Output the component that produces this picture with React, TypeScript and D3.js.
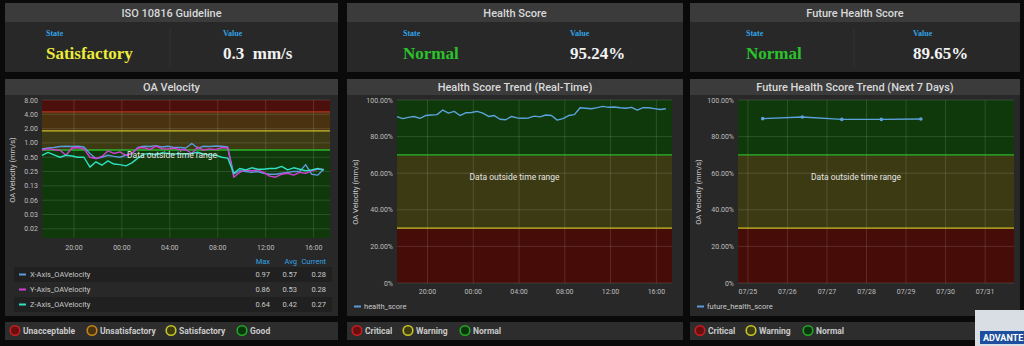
import React from 'react';
import * as d3 from 'd3';

const W = 1024;
const H = 346;

// ---------- data ----------
const oaStart = new Date(2019, 6, 24, 17, 20);
const oaEnd = new Date(2019, 6, 25, 17, 22);
const stepMin = 30;

const oaXAxis = [0.75, 0.78, 0.8, 0.84, 0.85, 0.84, 0.85, 0.82, 0.6, 0.47, 0.5, 0.55, 0.52, 0.5, 0.55, 0.6, 0.8, 0.85, 0.84, 0.88, 0.82, 0.85, 0.8, 0.8, 0.78, 0.97, 0.78, 0.85, 0.84, 0.86, 0.85, 0.82, 0.22, 0.26, 0.25, 0.24, 0.25, 0.23, 0.22, 0.22, 0.23, 0.24, 0.25, 0.25, 0.35, 0.22, 0.21, 0.28];
const oaYAxis = [0.7, 0.76, 0.72, 0.7, 0.55, 0.78, 0.8, 0.75, 0.5, 0.47, 0.52, 0.68, 0.6, 0.65, 0.55, 0.6, 0.78, 0.8, 0.72, 0.86, 0.76, 0.74, 0.78, 0.72, 0.72, 0.6, 0.82, 0.7, 0.75, 0.72, 0.8, 0.78, 0.19, 0.24, 0.27, 0.26, 0.27, 0.24, 0.2, 0.19, 0.22, 0.23, 0.21, 0.24, 0.23, 0.26, 0.28, 0.28];
const oaZAxis = [0.55, 0.63, 0.56, 0.5, 0.55, 0.53, 0.5, 0.5, 0.31, 0.4, 0.34, 0.42, 0.36, 0.35, 0.33, 0.38, 0.48, 0.58, 0.6, 0.56, 0.62, 0.6, 0.58, 0.6, 0.58, 0.6, 0.64, 0.58, 0.56, 0.55, 0.5, 0.48, 0.23, 0.29, 0.27, 0.3, 0.28, 0.28, 0.29, 0.29, 0.32, 0.27, 0.3, 0.28, 0.26, 0.27, 0.29, 0.27];

const oaYTicks = [8, 4, 2, 1, 0.5, 0.25, 0.125, 0.0625, 0.03125, 0.015625];
const oaYTickLabels = ['8.00', '4.00', '2.00', '1.00', '0.50', '0.25', '0.13', '0.06', '0.03', '0.02'];
const oaThresholds = [0.71, 1.8, 4.5];

const oaSeriesNames = ['X-Axis_OAVelocity', 'Y-Axis_OAVelocity', 'Z-Axis_OAVelocity'];
const oaSeriesColors = ['#5b9bd8', '#d23fd2', '#2fe0c2'];
const oaMax = ['0.97', '0.86', '0.64'];
const oaAvg = ['0.57', '0.53', '0.42'];
const oaCur = ['0.28', '0.28', '0.27'];

const healthScore = [90.9, 89.8, 90.5, 91, 90, 91.5, 91.8, 92, 94.5, 92.8, 93.8, 91.5, 93, 93.2, 93.8, 92.8, 91, 91.5, 89.5, 89.2, 91, 90.2, 90, 90.2, 91.2, 90.8, 91.8, 91.5, 89, 89.8, 91.5, 92, 95.8, 95.5, 95.2, 95.8, 96.5, 96, 96.2, 95.8, 95.5, 96, 94.5, 95.8, 95.8, 95.3, 94.8, 95.2];

const futureStart = new Date(2019, 6, 24, 18, 0);
const futureEnd = new Date(2019, 6, 31, 17, 30);
const futureDates = [new Date(2019, 6, 25, 9), new Date(2019, 6, 26, 9), new Date(2019, 6, 27, 9), new Date(2019, 6, 28, 9), new Date(2019, 6, 29, 9)];
const futureScore = [89.8, 90.7, 89.4, 89.4, 89.65];

const pctTicks = [0, 20, 40, 60, 80, 100];
const pctTickLabels = ['0%', '20.00%', '40.00%', '60.00%', '80.00%', '100.00%'];

const isoLegend = ['Unacceptable', 'Unsatisfactory', 'Satisfactory', 'Good'];
const healthLegend = ['Critical', 'Warning', 'Normal'];

// ---------- styles ----------
const BG = '#0a0a0a';
const PANEL = '#282828';
const TITLE = '#3b3b3b';
const TXT = '#d8d9da';
const SANS = 'Roboto, "Noto Sans", sans-serif';
const SERIF = '"Liberation Serif", "DejaVu Serif", serif';
const GRID = 'rgba(255,255,255,0.13)';
const BLUE_LBL = '#33a2e5';

const circ = {
  red: { fill: '#6a0f0f', stroke: '#c81e1e' },
  orange: { fill: '#4a3310', stroke: '#c8841a' },
  yellow: { fill: '#3e3c12', stroke: '#c8c426' },
  green: { fill: '#0c340c', stroke: '#22a822' },
};

const times = (start: Date, n: number) => d3.range(n).map((i) => new Date(start.getTime() + i * stepMin * 60000));

function Panel({ x, y, w, h, title, th }: any) {
  return (
    <g>
      <rect x={x} y={y} width={w} height={h} fill={PANEL} />
      <rect x={x} y={y} width={w} height={th} fill={TITLE} />
      <text x={x + w / 2} y={y + th / 2 + 4} textAnchor="middle" fill={TXT} fontFamily={SANS} fontSize={11} fontWeight={500}>
        {title}
      </text>
    </g>
  );
}

function StatPanel({ x, w, title, stateX, valueX, state, stateColor, value, divider }: any) {
  return (
    <g>
      <Panel x={x} y={3} w={w} h={69} title={title} th={19} />
      {divider !== undefined && <line x1={divider} x2={divider} y1={29} y2={66} stroke="#353535" strokeWidth={1} />}
      <text x={stateX} y={36} fill={BLUE_LBL} fontFamily={SERIF} fontWeight="bold" fontSize={8}>State</text>
      <text x={valueX} y={36} fill={BLUE_LBL} fontFamily={SERIF} fontWeight="bold" fontSize={8}>Value</text>
      <text x={stateX} y={59} fill={stateColor} fontFamily={SERIF} fontWeight="bold" fontSize={17}>{state}</text>
      <text x={valueX} y={59} fill="#f2f2f2" fontFamily={SERIF} fontWeight="bold" fontSize={17} style={{ whiteSpace: 'pre' }}>{value}</text>
    </g>
  );
}

function LegendStrip({ x, w, items, colors, positions }: any) {
  return (
    <g>
      <rect x={x} y={322} width={w} height={18} fill="#2d2d2d" />
      {items.map((it: string, i: number) => (
        <g key={it}>
          <circle cx={positions[i]} cy={330.5} r={4.8} fill={colors[i].fill} stroke={colors[i].stroke} strokeWidth={1.6} />
          <text x={positions[i] + 8} y={333.5} fill="#c9c9c9" fontFamily={SANS} fontWeight="bold" fontSize={8.5}>{it}</text>
        </g>
      ))}
    </g>
  );
}

function OAChart() {
  const L = 42, R = 330, T = 100, B = 238;
  const xs = d3.scaleTime().domain([oaStart, oaEnd]).range([L, R]);
  const ys = d3.scaleLog().base(2).domain([0.01, 8]).range([B, T]);
  const ts = times(oaStart, oaXAxis.length);
  const xTicks = xs.ticks(d3.timeHour.every(4) as any);
  const line = d3.line<number>().x((_, i) => xs(ts[i])).y((v) => ys(v)).curve(d3.curveLinear);
  const bands = [
    { lo: 0.01, hi: oaThresholds[0], fill: '#0f380b' },
    { lo: oaThresholds[0], hi: oaThresholds[1], fill: '#3d3a14' },
    { lo: oaThresholds[1], hi: oaThresholds[2], fill: '#4a3110' },
    { lo: oaThresholds[2], hi: 8, fill: '#4c0f0c' },
  ];
  const thrColors = ['#2bb52b', '#c9c02a', '#b2331a'];
  const series = [oaXAxis, oaYAxis, oaZAxis];
  return (
    <g>
      <Panel x={5} y={79} w={333} h={237} title="OA Velocity" th={16} />
      {bands.map((b, i) => (
        <rect key={i} x={L} y={ys(b.hi)} width={R - L} height={ys(b.lo) - ys(b.hi)} fill={b.fill} />
      ))}
      {oaYTicks.map((t) => (
        <line key={t} x1={L} x2={R} y1={ys(t)} y2={ys(t)} stroke={GRID} />
      ))}
      {xTicks.map((t, i) => (
        <line key={i} x1={xs(t)} x2={xs(t)} y1={T} y2={B} stroke={GRID} />
      ))}
      {oaThresholds.map((t, i) => (
        <line key={t} x1={L} x2={R} y1={ys(t)} y2={ys(t)} stroke={thrColors[i]} strokeWidth={1.3} />
      ))}
      {oaYTicks.map((t, i) => (
        <text key={t} x={L - 4} y={ys(t) + 2.5} textAnchor="end" fill="#bfbfbf" fontFamily={SANS} fontSize={7}>{oaYTickLabels[i]}</text>
      ))}
      {xTicks.map((t, i) => (
        <text key={i} x={xs(t)} y={250} textAnchor="middle" fill="#bfbfbf" fontFamily={SANS} fontSize={7}>{d3.timeFormat('%H:%M')(t)}</text>
      ))}
      <text transform={`translate(15,${170}) rotate(-90)`} textAnchor="middle" fill="#cfcfcf" fontFamily={SANS} fontSize={7.5}>OA Velocity (mm/s)</text>
      {series.map((s, i) => (
        <path key={i} d={line(s) || ''} fill="none" stroke={oaSeriesColors[i]} strokeWidth={1.4} strokeLinejoin="round" />
      ))}
      <text x={172} y={158} textAnchor="middle" fill="#e6e6e6" fontFamily={SANS} fontSize={8.5}>Data outside time range</text>
      {/* legend table */}
      <text x={270} y={264} textAnchor="end" fill={BLUE_LBL} fontFamily={SANS} fontSize={7.5}>Max</text>
      <text x={297} y={264} textAnchor="end" fill={BLUE_LBL} fontFamily={SANS} fontSize={7.5}>Avg</text>
      <text x={326} y={264} textAnchor="end" fill={BLUE_LBL} fontFamily={SANS} fontSize={7.5}>Current</text>
      {oaSeriesNames.map((n, i) => {
        const cy = 274 + i * 15;
        return (
          <g key={n}>
            {i !== 1 && <rect x={14} y={cy - 7} width={318} height={15} fill="#202020" />}
            <line x1={19} x2={26} y1={cy + 0.5} y2={cy + 0.5} stroke={oaSeriesColors[i]} strokeWidth={2} />
            <text x={30} y={cy + 3} fill="#c8c8c8" fontFamily={SANS} fontSize={7.5}>{n}</text>
            <text x={270} y={cy + 3} textAnchor="end" fill="#c8c8c8" fontFamily={SANS} fontSize={7.5}>{oaMax[i]}</text>
            <text x={297} y={cy + 3} textAnchor="end" fill="#c8c8c8" fontFamily={SANS} fontSize={7.5}>{oaAvg[i]}</text>
            <text x={326} y={cy + 3} textAnchor="end" fill="#c8c8c8" fontFamily={SANS} fontSize={7.5}>{oaCur[i]}</text>
          </g>
        );
      })}
    </g>
  );
}

function PctChart({ px, pw, title, L, R, xs, xTicks, fmt, children, legendName }: any) {
  const T = 100, B = 283;
  const ys = d3.scaleLinear().domain([0, 100]).range([B, T]);
  const bands = [
    { lo: 0, hi: 30, fill: '#450c08' },
    { lo: 30, hi: 70, fill: '#3c3a12' },
    { lo: 70, hi: 100, fill: '#0f380b' },
  ];
  return (
    <g>
      <Panel x={px} y={79} w={pw} h={237} title={title} th={16} />
      {bands.map((b, i) => (
        <rect key={i} x={L} y={ys(b.hi)} width={R - L} height={ys(b.lo) - ys(b.hi)} fill={b.fill} />
      ))}
      {pctTicks.map((t) => (
        <line key={t} x1={L} x2={R} y1={ys(t)} y2={ys(t)} stroke={GRID} />
      ))}
      {xTicks.map((t: Date, i: number) => (
        <line key={i} x1={xs(t)} x2={xs(t)} y1={T} y2={B} stroke={GRID} />
      ))}
      <line x1={L} x2={R} y1={ys(70)} y2={ys(70)} stroke="#2bb52b" strokeWidth={1.3} />
      <line x1={L} x2={R} y1={ys(30)} y2={ys(30)} stroke="#c9c02a" strokeWidth={1.3} />
      {pctTicks.map((t, i) => (
        <text key={t} x={L - 4} y={ys(t) + 2.5} textAnchor="end" fill="#bfbfbf" fontFamily={SANS} fontSize={7}>{pctTickLabels[i]}</text>
      ))}
      {xTicks.map((t: Date, i: number) => (
        <text key={i} x={xs(t)} y={294} textAnchor="middle" fill="#bfbfbf" fontFamily={SANS} fontSize={7}>{fmt(t)}</text>
      ))}
      <text transform={`translate(${px + 11},${192}) rotate(-90)`} textAnchor="middle" fill="#cfcfcf" fontFamily={SANS} fontSize={7.5}>OA Velocity (mm/s)</text>
      {children(ys)}
      <text x={(L + R) / 2 - 20} y={180} textAnchor="middle" fill="#e6e6e6" fontFamily={SANS} fontSize={8.5}>Data outside time range</text>
      <line x1={px + 7} x2={px + 14} y1={306.5} y2={306.5} stroke="#5b9bd8" strokeWidth={2} />
      <text x={px + 17} y={309} fill="#c8c8c8" fontFamily={SANS} fontSize={7.5}>{legendName}</text>
    </g>
  );
}

export default function App() {
  const hxs = d3.scaleTime().domain([oaStart, oaEnd]).range([397, 672]);
  const hTicks = hxs.ticks(d3.timeHour.every(4) as any);
  const hts = times(oaStart, healthScore.length);
  const fxs = d3.scaleTime().domain([futureStart, futureEnd]).range([738, 1014]);
  const fTicks = fxs.ticks(d3.timeDay.every(1) as any);
  return (
    <svg width={W} height={H} style={{ position: 'fixed', left: 0, top: 0, display: 'block' }}>
      <rect x={0} y={0} width={W} height={H} fill={BG} />
      <StatPanel x={5} w={333} title="ISO 10816 Guideline" stateX={46} valueX={223} state="Satisfactory" stateColor="#ecec3a" value={'0.3  mm/s'} divider={170} />
      <StatPanel x={347} w={336} title="Health Score" stateX={403} valueX={570} state="Normal" stateColor="#2cc22c" value="95.24%" />
      <StatPanel x={690} w={330} title="Future Health Score" stateX={746} valueX={913} state="Normal" stateColor="#2cc22c" value="89.65%" divider={854} />

      <OAChart />

      <PctChart px={347} pw={336} title="Health Score Trend (Real-Time)" L={397} R={672} xs={hxs} xTicks={hTicks} fmt={d3.timeFormat('%H:%M')} legendName="health_score">
        {(ys: any) => {
          const line = d3.line<number>().x((_, i) => hxs(hts[i])).y((v) => ys(v));
          return <path d={line(healthScore) || ''} fill="none" stroke="#5ba3dc" strokeWidth={1.4} strokeLinejoin="round" />;
        }}
      </PctChart>

      <PctChart px={690} pw={330} title="Future Health Score Trend (Next 7 Days)" L={738} R={1014} xs={fxs} xTicks={fTicks} fmt={d3.timeFormat('%m/%d')} legendName="future_health_score">
        {(ys: any) => {
          const line = d3.line<number>().x((_, i) => fxs(futureDates[i])).y((v) => ys(v));
          return (
            <g>
              <path d={line(futureScore) || ''} fill="none" stroke="#5ba3dc" strokeWidth={1.4} />
              {futureScore.map((v, i) => (
                <circle key={i} cx={fxs(futureDates[i])} cy={ys(v)} r={1.8} fill="#5ba3dc" />
              ))}
            </g>
          );
        }}
      </PctChart>

      <LegendStrip x={5} w={333} items={isoLegend} colors={[circ.red, circ.orange, circ.yellow, circ.green]} positions={[15, 92, 171, 242]} />
      <LegendStrip x={347} w={336} items={healthLegend} colors={[circ.red, circ.yellow, circ.green]} positions={[357, 408, 465]} />
      <LegendStrip x={690} w={330} items={healthLegend} colors={[circ.red, circ.yellow, circ.green]} positions={[700, 751, 808]} />

      {/* logo corner */}
      <rect x={975} y={310} width={49} height={36} fill="#d9dee4" />
      <rect x={980} y={331} width={44} height={13} fill="#1d4f9e" />
      <text x={983} y={341} fill="#ffffff" fontFamily={SANS} fontWeight="bold" fontSize={9}>ADVANTE</text>
    </svg>
  );
}
